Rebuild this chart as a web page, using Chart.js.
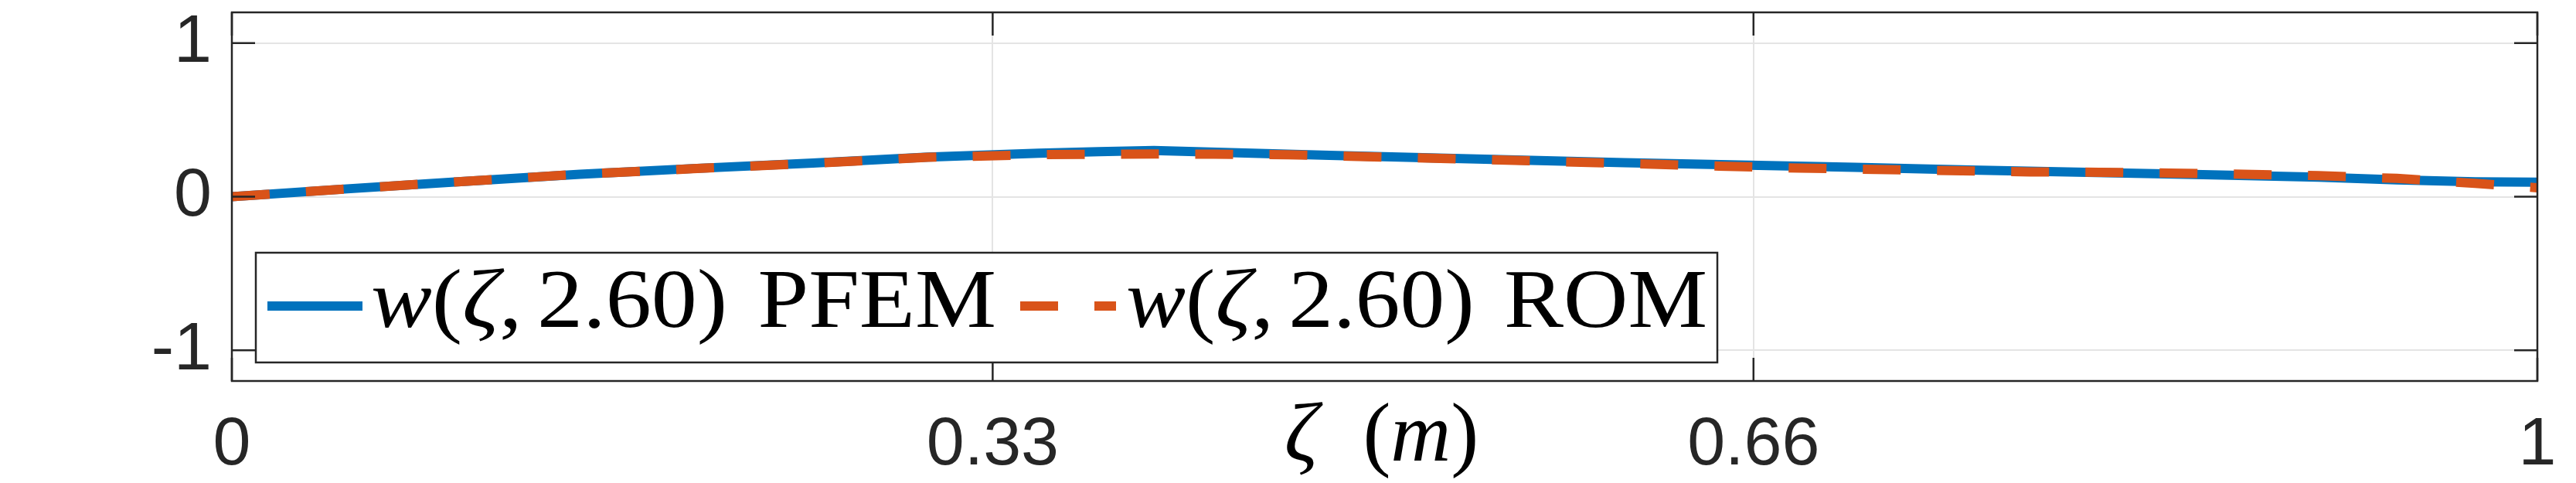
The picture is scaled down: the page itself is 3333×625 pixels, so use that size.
<!DOCTYPE html>
<html><head><meta charset="utf-8">
<script src="https://cdn.jsdelivr.net/npm/chart.js@4.4.1/dist/chart.umd.min.js"></script>
<style>html,body{margin:0;padding:0;background:#fff;overflow:hidden}canvas{display:block}</style>
</head><body>
<canvas id="c" width="3333" height="625"></canvas>
<script>
// ---- data ----
const xTicks = [0, 0.33, 0.66, 1];
const xTickLabels = ['0', '0.33', '0.66', '1'];
const yTicks = [-1, 0, 1];
const yTickLabels = ['-1', '0', '1'];

const pfemZeta = [0.000, 0.050, 0.098, 0.151, 0.200, 0.252, 0.302, 0.350, 0.376, 0.400, 0.476, 0.540, 0.604, 0.704, 0.754, 0.855, 0.905, 0.939, 0.973, 1.000];
const pfemW    = [0.000, 0.051, 0.097, 0.146, 0.183, 0.219, 0.258, 0.283, 0.293, 0.301, 0.269, 0.245, 0.221, 0.191, 0.174, 0.144, 0.127, 0.110, 0.097, 0.094];

const romZeta = [0.000, 0.050, 0.098, 0.151, 0.200, 0.252, 0.302, 0.350, 0.400, 0.426, 0.458, 0.540, 0.610, 0.645, 0.680, 0.780, 0.810, 0.840, 0.905, 0.939, 0.973, 1.000];
const romW    = [0.000, 0.051, 0.097, 0.146, 0.182, 0.218, 0.256, 0.274, 0.278, 0.277, 0.273, 0.243, 0.214, 0.199, 0.186, 0.161, 0.159, 0.154, 0.137, 0.119, 0.087, 0.058];

const labelPFEM = 'w(ζ, 2.60) PFEM';
const labelROM  = 'w(ζ, 2.60) ROM';
const xTitle = ['ζ', '(m)'];

// ---- styles ----
const BLUE = '#0072BD', ORANGE = '#D95319', AXIS = '#262626', GRID = '#e4e4e4';
const TICKFONT = {family: "'Liberation Sans', Arial, sans-serif", size: 88};
const SERIF = '"Liberation Serif", "Times New Roman", serif';

function drawRich(ctx, text, x, baseline, size, targetW) {
  const close = text.indexOf(')');
  const items = [];
  let total = 0;
  for (let i = 0; i < text.length; i++) {
    const ch = text[i];
    const italic = i < close && /\p{L}/u.test(ch);
    let w;
    if (ch === ' ') {
      w = i < close ? size / 6 : size * 0.333;
    } else {
      ctx.font = (italic ? 'italic ' : '') + size + 'px ' + SERIF;
      w = ctx.measureText(ch).width;
    }
    items.push({ch, italic, off: total});
    total += w;
  }
  const sx = targetW ? targetW / total : 1;
  ctx.save();
  ctx.translate(x, baseline);
  ctx.scale(sx, 1);
  ctx.fillStyle = '#000';
  ctx.textBaseline = 'alphabetic';
  ctx.textAlign = 'left';
  items.forEach(it => {
    if (it.ch === ' ') return;
    ctx.font = (it.italic ? 'italic ' : '') + size + 'px ' + SERIF;
    ctx.fillText(it.ch, it.off, 0);
  });
  ctx.restore();
}

const decor = {
  id: 'decor',
  afterDatasetsDraw(chart) {
    const {ctx, chartArea: a, scales: {x, y}} = chart;
    ctx.save();
    ctx.strokeStyle = AXIS;
    ctx.lineWidth = 2.5;
    const L = 30;
    ctx.beginPath();
    x.ticks.forEach(t => {
      const px = x.getPixelForValue(t.value);
      ctx.moveTo(px, a.bottom); ctx.lineTo(px, a.bottom - L);
      ctx.moveTo(px, a.top); ctx.lineTo(px, a.top + L);
    });
    y.ticks.forEach(t => {
      const py = y.getPixelForValue(t.value);
      ctx.moveTo(a.left, py); ctx.lineTo(a.left + L, py);
      ctx.moveTo(a.right, py); ctx.lineTo(a.right - L, py);
    });
    ctx.stroke();
    ctx.strokeRect(a.left, a.top, a.right - a.left, a.bottom - a.top);
    ctx.restore();
  },
  afterDraw(chart) {
    const {ctx, chartArea: a} = chart;
    const ds = chart.data.datasets;
    const pfem = ds.find(d => d.label === labelPFEM);
    const rom = ds.find(d => d.label === labelROM);
    // legend box
    const bx = a.left + 31, bBottom = a.bottom - 24, bh = 142, bw = 1891;
    const by = bBottom - bh;
    ctx.save();
    ctx.fillStyle = '#fff';
    ctx.fillRect(bx, by, bw, bh);
    ctx.strokeStyle = AXIS;
    ctx.lineWidth = 2.5;
    ctx.strokeRect(bx, by, bw, bh);
    const ly = by + 69;
    ctx.lineWidth = 12;
    ctx.lineCap = 'butt';
    ctx.strokeStyle = pfem.borderColor;
    ctx.beginPath(); ctx.moveTo(bx + 15, ly); ctx.lineTo(bx + 138, ly); ctx.stroke();
    ctx.strokeStyle = rom.borderColor;
    ctx.setLineDash(rom.borderDash);
    ctx.beginPath(); ctx.moveTo(bx + 989, ly); ctx.lineTo(bx + 1113, ly); ctx.stroke();
    ctx.setLineDash([]);
    ctx.restore();
    drawRich(ctx, pfem.label, bx + 149, by + 96, 109, 809);
    drawRich(ctx, rom.label, bx + 1126, by + 96, 109, 752);
    // x-axis title
    const size = 108;
    ctx.save();
    ctx.fillStyle = '#000';
    ctx.textBaseline = 'alphabetic';
    ctx.font = 'italic ' + size + 'px ' + SERIF;
    const wZ = ctx.measureText(xTitle[0]).width;
    ctx.font = size + 'px ' + SERIF;
    const wP = ctx.measureText('(').width, wQ = ctx.measureText(')').width;
    ctx.font = 'italic ' + size + 'px ' + SERIF;
    const wM = ctx.measureText('m').width;
    const gap = 58;
    const tot = wZ + gap + wP + wM + wQ;
    let tx = (a.left + a.right) / 2 - 4 - tot / 2;
    const tb = a.bottom + 103;
    ctx.font = 'italic ' + size + 'px ' + SERIF;
    ctx.fillText(xTitle[0], tx, tb); tx += wZ + gap;
    ctx.font = size + 'px ' + SERIF;
    ctx.fillText('(', tx, tb); tx += wP;
    ctx.font = 'italic ' + size + 'px ' + SERIF;
    ctx.fillText('m', tx, tb); tx += wM;
    ctx.font = size + 'px ' + SERIF;
    ctx.fillText(')', tx, tb);
    ctx.restore();
  }
};

new Chart(document.getElementById('c').getContext('2d'), {
  type: 'line',
  data: {
    datasets: [
      {label: labelROM, data: romZeta.map((v, i) => ({x: v, y: romW[i]})),
       borderColor: ORANGE, backgroundColor: ORANGE, borderWidth: 12, borderDash: [49, 47],
       pointRadius: 0, tension: 0, fill: false, order: 0},
      {label: labelPFEM, data: pfemZeta.map((v, i) => ({x: v, y: pfemW[i]})),
       borderColor: BLUE, backgroundColor: BLUE, borderWidth: 12,
       pointRadius: 0, tension: 0, fill: false, order: 1}
    ]
  },
  options: {
    responsive: false, animation: false, devicePixelRatio: 1,
    layout: {padding: {top: 16, right: 50, left: 0, bottom: 0}},
    plugins: {legend: {display: false}, tooltip: {enabled: false}, title: {display: false}},
    scales: {
      x: {
        type: 'linear', min: 0, max: 1,
        afterBuildTicks: s => { s.ticks = xTicks.map(v => ({value: v})); },
        afterFit: s => { s.height = 132; s.paddingLeft = 0; s.paddingRight = 0; },
        ticks: {callback: v => xTickLabels[xTicks.indexOf(v)], font: TICKFONT, color: AXIS,
                padding: 31, maxRotation: 0, autoSkip: false},
        grid: {color: GRID, lineWidth: 2, drawTicks: false},
        border: {display: false}
      },
      y: {
        type: 'linear', min: -1.2, max: 1.2,
        afterBuildTicks: s => { s.ticks = yTicks.map(v => ({value: v})); },
        afterFit: s => { s.width = 300; s.paddingTop = 0; s.paddingBottom = 0; },
        ticks: {callback: v => yTickLabels[yTicks.indexOf(v)], font: TICKFONT, color: AXIS,
                padding: 26, autoSkip: false},
        grid: {color: GRID, lineWidth: 2, drawTicks: false},
        border: {display: false}
      }
    }
  },
  plugins: [decor]
});
</script>
</body></html>
